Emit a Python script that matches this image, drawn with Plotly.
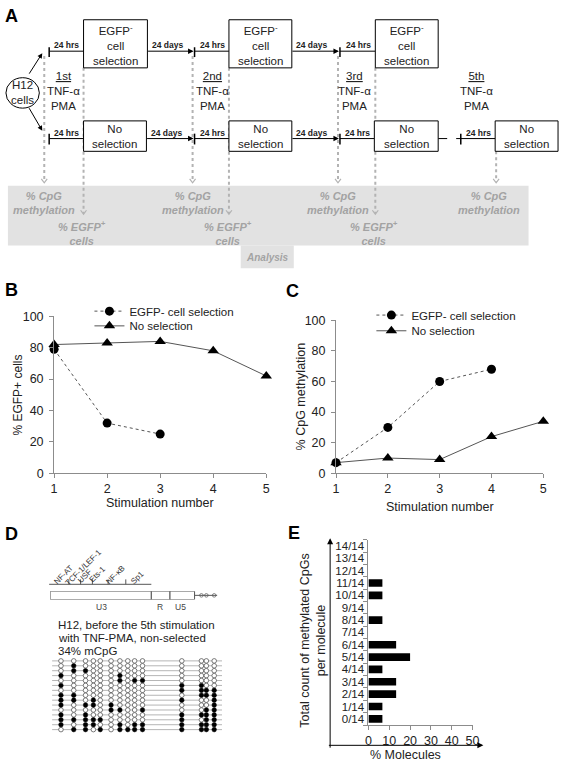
import plotly.graph_objects as go

W, H = 567, 770
FONT = "Liberation Sans, Arial, sans-serif"
TXT = "#222222"
AX = "#8c8c8c"
GRAYTXT = "#a3a3a3"

# ---------------- data ----------------
stimulation_number = [1, 2, 3, 4, 5]
egfp_pos_selected = [79, 32, 25]            # % EGFP+ cells, EGFP- cell selection
egfp_pos_nonselected = [82, 83, 84, 78, 62]  # % EGFP+ cells, no selection
cpg_meth_selected = [7, 30, 60, 68]          # % CpG methylation, EGFP- cell selection
cpg_meth_nonselected = [7, 10, 9, 24, 34]    # % CpG methylation, no selection

count_categories = ["0/14", "1/14", "2/14", "3/14", "4/14", "5/14", "6/14", "7/14",
                    "8/14", "9/14", "10/14", "11/14", "12/14", "13/14", "14/14"]
pct_molecules = [6.7, 6.7, 13.3, 13.3, 6.7, 20.0, 13.3, 0, 6.7, 0, 6.7, 6.7, 0, 0, 0]

ltr_regions = ["U3", "R", "U5"]
ltr_region_start = [0, 103, 122]
ltr_region_end = [103, 122, 147]
ltr_tail_end = 170
cpg_site_position = [11, 24, 36, 44, 51, 62, 71, 79, 86, 94, 134, 154, 159, 167]
tf_sites = ["NF-AT", "TCF-1/LEF-1", "USF", "Ets-1", "NF-κB", "Sp1"]

# 15 molecules x 14 CpGs (1 = methylated)
methylation_rows = [
    "00000000000000",
    "01000000000000",
    "01100000000000",
    "10000010000000",
    "00000010110000",
    "10000000001100",
    "00000000001111",
    "11000000000111",
    "11010000001001",
    "10110100000001",
    "00000110010011",
    "10100000001111",
    "11111000001011",
    "10110010111111",
    "01101011111111",
]


def X(p):
    return p / W


def Y(p):
    return 1 - p / H


shapes = []
annotations = []


def rect(x0, y0, x1, y1, **kw):
    shapes.append(dict(type="rect", xref="paper", yref="paper",
                       x0=X(x0), x1=X(x1), y0=Y(y1), y1=Y(y0), **kw))


def seg(x0, y0, x1, y1, color="black", width=1, dash="solid"):
    shapes.append(dict(type="line", xref="paper", yref="paper",
                       x0=X(x0), x1=X(x1), y0=Y(y0), y1=Y(y1),
                       line=dict(color=color, width=width, dash=dash)))


def text(x, y, s, size=11, color=TXT, xanchor="center", yanchor="middle", angle=0):
    annotations.append(dict(x=X(x), y=Y(y), xref="paper", yref="paper", text=s,
                            showarrow=False, textangle=angle,
                            font=dict(size=size, family=FONT, color=color),
                            xanchor=xanchor, yanchor=yanchor))


def arrow(xt, yt, xh, yh, color="black", width=1, head=2, size=1.0):
    annotations.append(dict(x=X(xh), y=Y(yh), xref="paper", yref="paper",
                            ax=xt - xh, ay=yt - yh, axref="pixel", ayref="pixel",
                            text="", showarrow=True, arrowhead=head, arrowsize=size,
                            arrowwidth=width, arrowcolor=color, standoff=0,
                            startstandoff=0))


# ---------------- panel A (schematic) ----------------
rect(5, 182, 535, 243, fillcolor="#e2e2e2", line=dict(width=0), layer="below")
rect(242, 243, 296, 266, fillcolor="#e2e2e2", line=dict(width=0), layer="below")

shapes.append(dict(type="circle", xref="paper", yref="paper", x0=X(3), x1=X(37),
                   y0=Y(103), y1=Y(72), line=dict(color="black", width=1),
                   fillcolor="white"))
text(20, 87, "H12<br>cells", 11.5)
arrow(26, 69, 40, 47)
arrow(26, 102, 40, 126)

top_y, bot_y = 45, 134
top_boxes = [(82, 147), (230, 294), (379, 443)]
bot_boxes = [(82, 146), (230, 294), (378, 443), (501, 565)]
stim_ticks = [47, 195, 343]

dotted = [(42, 50, 178), (82, 62, 210), (193, 50, 178), (230, 62, 210),
          (341, 50, 178), (379, 62, 210), (502, 147, 178)]
for (xx, ya, yb) in dotted:
    seg(xx, ya, xx, yb, color="#b3b3b3", width=2, dash="dot")
    shapes.append(dict(type="path", xref="paper", yref="paper",
                       path=f"M {X(xx-3)},{Y(yb-3)} L {X(xx)},{Y(yb+1)} L {X(xx+3)},{Y(yb-3)}",
                       line=dict(color="#b3b3b3", width=1.2)))

for row_y, boxes, tk_lo, tk_hi in [(top_y, top_boxes, 41, 51), (bot_y, bot_boxes[:3], 129, 140)]:
    for i, t in enumerate(stim_ticks):
        seg(t, tk_lo, t, tk_hi, width=1.5)
        seg(t, row_y, boxes[i][0], row_y)
        text((t + boxes[i][0]) / 2 + 0.5, row_y - 6, "<b>24 hrs</b>", 8.5)
        if i < 2:
            arrow(boxes[i][1], row_y, stim_ticks[i + 1] - 1, row_y, head=2, size=1.1)
            text((boxes[i][1] + stim_ticks[i + 1]) / 2 - 4, row_y - 6, "<b>24 days</b>", 8.5)

seg(443, bot_y, 466, bot_y, dash="dash", width=1)
seg(466, 129, 466, 140, width=1.5)
seg(466, bot_y, 501, bot_y)
text(484, bot_y - 6, "<b>24 hrs</b>", 8.5)

for (a, b) in top_boxes:
    rect(a, 13, b, 62, line=dict(color="black", width=1), fillcolor="white")
    text((a + b) / 2, 39, "EGFP<sup>-</sup><br>cell<br>selection", 11.5)
for (a, b) in bot_boxes:
    rect(a, 116, b, 147, line=dict(color="black", width=1), fillcolor="white")
    text((a + b) / 2, 131.5, "No<br>selection", 11.5)

for xx, lab in [(62, "1st"), (213, "2nd"), (358, "3rd"), (482, "5th")]:
    text(xx, 86, f"<u>{lab}</u><br>TNF-α<br>PMA", 11.5)

for xc, xe in [(42, 80), (193, 229), (341, 378)]:
    text(xc, 200, "<b><i>% CpG<br>methylation</i></b>", 11, GRAYTXT)
    text(xe, 230, "<b><i>% EGFP<sup>+</sup><br>cells</i></b>", 11, GRAYTXT)
text(495, 200, "<b><i>% CpG<br>methylation</i></b>", 11, GRAYTXT)
text(269, 255, "<b><i>Analysis</i></b>", 10, GRAYTXT)

for lab, xx, yy in [("A", 9, 9), ("B", 9, 288), ("C", 295, 289), ("D", 9, 537), ("E", 296, 536)]:
    text(xx, yy, f"<b>{lab}</b>", 18, "black")

# ---------------- traces ----------------
fig = go.Figure()

fig.add_trace(go.Scatter(x=stimulation_number[:len(egfp_pos_selected)], y=egfp_pos_selected,
                         mode="lines+markers", name="EGFP- cell selection",
                         line=dict(color="#555555", width=1, dash="dot"),
                         marker=dict(symbol="circle", size=9, color="black"),
                         xaxis="x", yaxis="y", legend="legend", cliponaxis=False))
fig.add_trace(go.Scatter(x=stimulation_number, y=egfp_pos_nonselected,
                         mode="lines+markers", name="No selection",
                         line=dict(color="#555555", width=1),
                         marker=dict(symbol="triangle-up", size=10, color="black"),
                         xaxis="x", yaxis="y", legend="legend3", cliponaxis=False))
fig.add_trace(go.Scatter(x=stimulation_number, y=cpg_meth_nonselected,
                         mode="lines+markers", name="No selection",
                         line=dict(color="#555555", width=1),
                         marker=dict(symbol="triangle-up", size=10, color="black"),
                         xaxis="x2", yaxis="y2", legend="legend4", cliponaxis=False))
fig.add_trace(go.Scatter(x=stimulation_number[:len(cpg_meth_selected)], y=cpg_meth_selected,
                         mode="lines+markers", name="EGFP- cell selection",
                         line=dict(color="#555555", width=1, dash="dot"),
                         marker=dict(symbol="circle", size=9, color="black"),
                         xaxis="x2", yaxis="y2", legend="legend2", cliponaxis=False))

fig.add_trace(go.Bar(y=count_categories, x=pct_molecules, orientation="h",
                     marker=dict(color="black", line=dict(width=0)), width=0.62,
                     xaxis="x3", yaxis="y3", showlegend=False))

open_x, open_y, fill_x, fill_y = [], [], [], []
for r, row in enumerate(methylation_rows):
    shapes.append(dict(type="line", xref="x4", yref="y4", x0=2, x1=175, y0=r, y1=r,
                       line=dict(color="#b5b5b5", width=1), layer="below"))
    for c, v in enumerate(row):
        if v == "1":
            fill_x.append(cpg_site_position[c]); fill_y.append(r)
        else:
            open_x.append(cpg_site_position[c]); open_y.append(r)
fig.add_trace(go.Scatter(x=open_x, y=open_y, mode="markers", showlegend=False,
                         marker=dict(symbol="circle", size=4.6, color="white",
                                     line=dict(color="#444444", width=0.7)),
                         xaxis="x4", yaxis="y4", cliponaxis=False))
fig.add_trace(go.Scatter(x=fill_x, y=fill_y, mode="markers", showlegend=False,
                         marker=dict(symbol="circle", size=4.6, color="black",
                                     line=dict(color="black", width=0.5)),
                         xaxis="x4", yaxis="y4", cliponaxis=False))

for s, e in zip(ltr_region_start, ltr_region_end):
    shapes.append(dict(type="rect", xref="x4", yref="y5", x0=s, x1=e, y0=-1, y1=1,
                       line=dict(color="#555555", width=1), fillcolor="white"))
shapes.append(dict(type="line", xref="x4", yref="y5", x0=ltr_region_end[-1], x1=ltr_tail_end,
                   y0=0, y1=0, line=dict(color="#555555", width=1)))
fig.add_trace(go.Scatter(x=cpg_site_position, y=[0] * len(cpg_site_position), mode="markers",
                         showlegend=False,
                         marker=dict(symbol="circle", size=3.6, color="white",
                                     line=dict(color="#555555", width=0.7)),
                         xaxis="x4", yaxis="y5", cliponaxis=False))
for lab, xx in zip(ltr_regions, [100, 160, 181]):
    text(xx, 611, lab, 8.5, "#444444")
seg(47, 588, 151, 588, color="#555555")
for tx in [67, 79, 91, 107, 125]:
    seg(tx, 583, tx, 588, color="#555555")
for lab, (xx, yy) in zip(tf_sites, [(62, 578), (82, 571), (83, 580), (96, 578), (115, 578), (137, 581)]):
    text(xx, yy, lab, 8, "#333333", angle=-45)

text(54, 629, "H12, before the 5th stimulation", 11.5, TXT, xanchor="left")
text(54, 643, "with TNF-PMA, non-selected", 11.5, TXT, xanchor="left")
text(54, 656, "34% mCpG", 11.5, TXT, xanchor="left")

text(15, 395, "% EGFP+ cells", 12, TXT, angle=-90)
text(160, 505, "Stimulation number", 12.5, TXT)
text(303, 397, "% CpG methylation", 12.5, TXT, angle=-90)
text(445, 509, "Stimulation number", 12.5, TXT)
text(316, 645, "Total count of methylated CpGs<br>per molecule", 12.5, TXT, angle=-90)
text(410, 762, "% Molecules", 12.5, TXT)
arrow(333, 752, 333, 541, color="black", head=2, size=1.2)
arrow(333, 752, 489, 752, color="black", head=2, size=1.2)

common_axis = dict(showline=True, linecolor=AX, linewidth=1, showgrid=False, zeroline=False,
                   ticks="outside", ticklen=4, tickcolor=AX,
                   tickfont=dict(size=12.5, family=FONT, color=TXT))

leg = dict(xanchor="left", yanchor="top", bgcolor="rgba(0,0,0,0)",
           font=dict(size=11.5, family=FONT, color=TXT))

fig.update_layout(
    width=W, height=H, autosize=False,
    margin=dict(l=0, r=0, t=0, b=0),
    paper_bgcolor="white", plot_bgcolor="rgba(0,0,0,0)",
    font=dict(family=FONT, color=TXT),
    shapes=shapes, annotations=annotations,
    xaxis=dict(domain=[X(52), X(268)], range=[1, 5], anchor="y", tickvals=stimulation_number,
               **common_axis),
    yaxis=dict(domain=[Y(475), Y(315)], range=[0, 100], anchor="x", tickvals=[0, 20, 40, 60, 80, 100],
               ticklabelstandoff=3, **common_axis),
    xaxis2=dict(domain=[X(339), X(550)], range=[1, 5], anchor="y2", tickvals=stimulation_number,
                **common_axis),
    yaxis2=dict(domain=[Y(475), Y(319)], range=[0, 100], anchor="x2", tickvals=[0, 20, 40, 60, 80, 100],
                ticklabelstandoff=3, **common_axis),
    xaxis3=dict(domain=[X(372), X(478)], range=[0, 50], anchor="y3", tickvals=[0, 10, 20, 30, 40, 50],
                **common_axis),
    yaxis3=dict(domain=[Y(731.3), Y(542.7)], anchor="x3", type="category",
                categoryorder="array", categoryarray=count_categories, tickson="boundaries",
                tickmode="array", tickvals=count_categories, ticktext=count_categories,
                ticklabelstandoff=1,
                **{**common_axis, "tickfont": dict(size=11.5, family=FONT, color=TXT)}),
    xaxis4=dict(domain=[X(48), X(223)], range=[0, 175], anchor="y4", visible=False),
    yaxis4=dict(domain=[Y(738.5), Y(663.5)], range=[14.5, -0.5], anchor="x4", visible=False),
    yaxis5=dict(domain=[Y(603.5), Y(595)], range=[-1, 1], anchor="x4", visible=False),
    legend=dict(x=X(88), y=Y(295), **leg),
    legend3=dict(x=X(88), y=Y(310), **leg),
    legend2=dict(x=X(375), y=Y(299), **leg),
    legend4=dict(x=X(375), y=Y(315), **leg),
    bargap=0.4,
)

fig.write_html("out.html", config={"displayModeBar": False},
               post_script="document.body.style.margin='0';document.body.style.padding='0';")
